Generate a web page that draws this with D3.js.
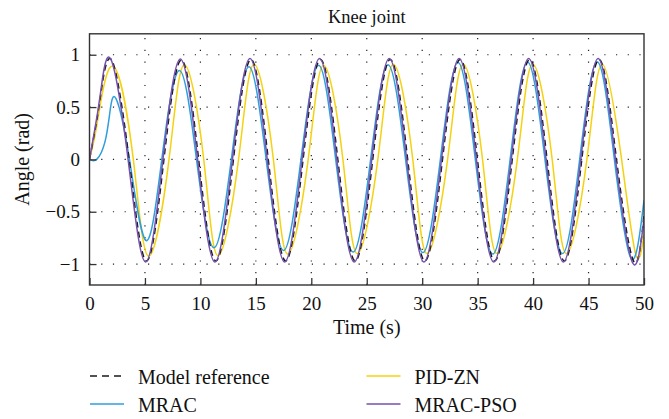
<!DOCTYPE html>
<html>
<head>
<meta charset="utf-8">
<script src="https://cdn.jsdelivr.net/npm/d3@7"></script>
<style>
  body { margin: 0; background: #fff; }
  text { font-family: "Liberation Serif", "Times New Roman", serif; fill: #111; }
</style>
</head>
<body>
<svg width="669" height="419"></svg>
<script>
// DATA (peaks, troughs and zero crossings of each trace)
var xTicks = [0, 5, 10, 15, 20, 25, 30, 35, 40, 45, 50];
var yTicks = [-1, -0.5, 0, 0.5, 1];

var modelRef = [[0,0],[0.5,0.28],[1.0,0.61],[2.0,0.95],[3.57,0],[5.14,-0.97],[6.71,0],[8.28,0.95],
  [9.84,0],[11.4,-0.97],[12.98,0],[14.56,0.955],[16.12,0],[17.69,-0.97],[19.26,0],[20.83,0.955],
  [22.39,0],[23.96,-0.97],[25.54,0],[27.12,0.955],[28.69,0],[30.25,-0.97],[31.83,0],[33.42,0.955],
  [34.98,0],[36.54,-0.97],[38.12,0],[39.69,0.955],[41.26,0],[42.82,-0.97],[44.39,0],[45.96,0.955],
  [47.52,0],[49.07,-0.975],[50,-0.53]];

var mrac = [[0,0],[0.65,0],[1.4,0.17],[1.85,0.46],[2.39,0.58],[3.6,0],[5.1,-0.775],[6.52,0],[8.1,0.85],
  [9.65,0],[11.22,-0.845],[12.79,0],[14.37,0.885],[15.93,0],[17.5,-0.87],[19.07,0],[20.66,0.9],
  [22.2,0],[23.77,-0.885],[25.35,0],[26.92,0.905],[28.5,0],[30.06,-0.89],[31.64,0],[33.23,0.925],
  [34.79,0],[36.36,-0.905],[37.93,0],[39.5,0.93],[41.07,0],[42.65,-0.9],[44.2,0],[45.78,0.932],
  [47.33,0],[48.85,-0.95],[50,-0.39]];

var pidZn = [[0,0],[0.5,0.23],[1.0,0.54],[2.24,0.88],[3.95,0],[5.33,-0.925],[7.17,0],[8.56,0.905],
  [10.3,0],[11.59,-0.92],[13.44,0],[14.84,0.91],[16.58,0],[17.88,-0.905],[19.72,0],[21.11,0.9],
  [22.85,0],[24.15,-0.9],[26.0,0],[27.4,0.91],[29.15,0],[30.44,-0.9],[32.29,0],[33.7,0.91],
  [35.44,0],[36.73,-0.9],[38.58,0],[39.97,0.91],[41.72,0],[43.01,-0.9],[44.85,0],[46.24,0.91],
  [47.98,0],[49.26,-0.91],[50,-0.72]];

var mracPso = [[0,0],[0.5,0.3],[1.0,0.64],[1.91,0.96],[3.48,0],[5.05,-0.98],[6.62,0],[8.19,0.96],
  [9.75,0],[11.31,-0.98],[12.89,0],[14.47,0.965],[16.03,0],[17.6,-0.98],[19.17,0],[20.74,0.965],
  [22.3,0],[23.87,-0.98],[25.45,0],[27.03,0.965],[28.6,0],[30.16,-0.98],[31.74,0],[33.33,0.965],
  [34.89,0],[36.45,-0.98],[38.03,0],[39.6,0.965],[41.17,0],[42.73,-0.98],[44.3,0],[45.87,0.965],
  [47.43,0],[48.98,-0.99],[50,-0.57]];

var seriesNames = ["Model reference", "MRAC", "PID-ZN", "MRAC-PSO"];

// SVG PARAMETERS
var svg = d3.select("svg");
var plotLeft = 89.5, plotRight = 644, plotTop = 33.8, plotBottom = 285;

var x = d3.scaleLinear().domain([0, 50]).range([plotLeft, plotRight]);
var y = d3.scaleLinear().domain([-1.2, 1.2]).range([plotBottom, plotTop]);

// GRID (dotted)
var grid = svg.append("g").attr("class", "grid")
  .attr("stroke", "#222").attr("stroke-width", 1.2).attr("stroke-dasharray", "1.2,10.5");
grid.selectAll(".vg").data(xTicks.slice(1, -1)).enter().append("line")
  .attr("x1", function(d) { return x(d); }).attr("x2", function(d) { return x(d); })
  .attr("y1", plotBottom).attr("y2", plotTop);
grid.selectAll(".hg").data(yTicks).enter().append("line")
  .attr("y1", function(d) { return y(d); }).attr("y2", function(d) { return y(d); })
  .attr("x1", plotLeft).attr("x2", plotRight);

// LINES
svg.append("clipPath").attr("id", "clip").append("rect")
  .attr("x", plotLeft).attr("y", plotTop)
  .attr("width", plotRight - plotLeft).attr("height", plotBottom - plotTop);

var line = d3.line()
  .x(function(d) { return x(d[0]); })
  .y(function(d) { return y(d[1]); })
  .curve(d3.curveNatural);

var styles = {
  "Model reference": { data: modelRef, color: "#1a1a1a", dash: "6,4" },
  "MRAC": { data: mrac, color: "#2e9fdc", dash: null },
  "PID-ZN": { data: pidZn, color: "#f5d20f", dash: null },
  "MRAC-PSO": { data: mracPso, color: "#7650ad", dash: null }
};

var drawOrder = ["PID-ZN", "MRAC", "Model reference", "MRAC-PSO"];
var lines = svg.append("g").attr("clip-path", "url(#clip)");
drawOrder.forEach(function(name) {
  var s = styles[name];
  lines.append("path")
    .datum(s.data)
    .attr("fill", "none")
    .attr("stroke", s.color)
    .attr("stroke-width", 1.5)
    .attr("stroke-dasharray", s.dash)
    .attr("d", line);
});

// AXES
var fmt = d3.format("~g");
var xAxis = svg.append("g")
  .attr("transform", "translate(0," + plotBottom + ")")
  .call(d3.axisBottom(x).tickValues(xTicks).tickSize(-7).tickPadding(11.5).tickFormat(fmt));
var yAxis = svg.append("g")
  .attr("transform", "translate(" + plotLeft + ",0)")
  .call(d3.axisLeft(y).tickValues(yTicks).tickSize(-7).tickPadding(9.5).tickFormat(fmt));

[xAxis, yAxis].forEach(function(a) {
  a.attr("font-family", "'Liberation Serif', serif");
  a.select(".domain").remove();
  a.selectAll(".tick line").attr("stroke", "#333").attr("stroke-width", 1.3);
  a.selectAll(".tick text").attr("font-size", 19).attr("fill", "#111");
});

// FRAME
svg.append("rect")
  .attr("x", plotLeft).attr("y", plotTop)
  .attr("width", plotRight - plotLeft).attr("height", plotBottom - plotTop)
  .attr("fill", "none").attr("stroke", "#333").attr("stroke-width", 1.4);

// TITLES
svg.append("text").attr("x", (plotLeft + plotRight) / 2).attr("y", 23)
  .attr("text-anchor", "middle").attr("font-size", 18.5).text("Knee joint");
svg.append("text").attr("x", (plotLeft + plotRight) / 2).attr("y", 334)
  .attr("text-anchor", "middle").attr("font-size", 20).text("Time (s)");
svg.append("text")
  .attr("transform", "translate(29," + y(0) + ") rotate(-90)")
  .attr("text-anchor", "middle").attr("font-size", 20).text("Angle (rad)");

// LEGEND
var legendPos = {
  "Model reference": [90, 376],
  "MRAC": [90, 404],
  "PID-ZN": [366.5, 376],
  "MRAC-PSO": [366.5, 404]
};
var legend = svg.append("g").attr("class", "legend");
seriesNames.forEach(function(name) {
  var p = legendPos[name], s = styles[name];
  legend.append("line")
    .attr("x1", p[0]).attr("x2", p[0] + 34).attr("y1", p[1]).attr("y2", p[1])
    .attr("stroke", s.color).attr("stroke-width", 1.4)
    .attr("stroke-dasharray", s.dash ? "7,5" : null);
  legend.append("text")
    .attr("x", p[0] + 48).attr("y", p[1] + 7.5)
    .attr("font-size", 20).text(name);
});
</script>
</body>
</html>
